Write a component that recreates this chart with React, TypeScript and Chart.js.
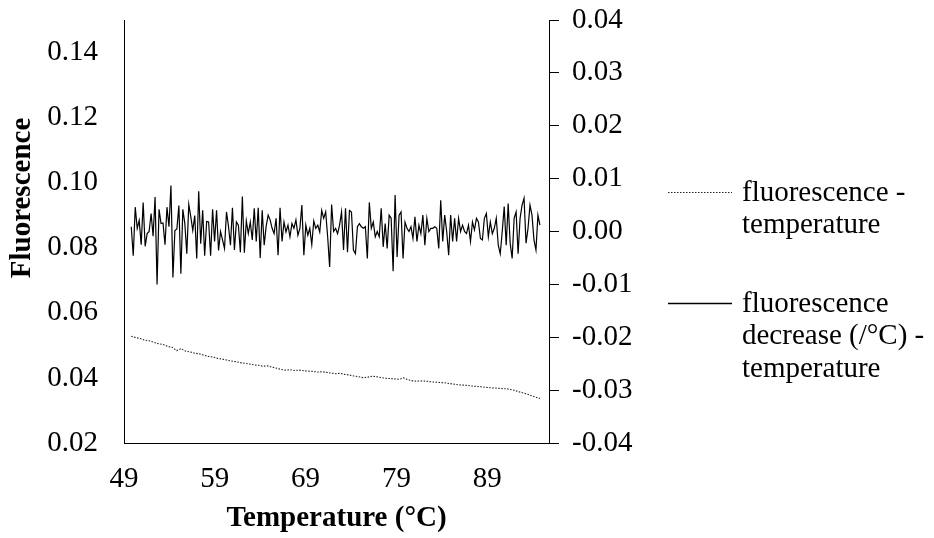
import { useEffect, useRef } from 'react';
import { Chart, registerables } from 'chart.js';

Chart.register(...registerables);

// ---- data ----
const T_START = 49.8; // first measured temperature (°C)
const T_END = 94.8; // last measured temperature (°C)

const xTickValues = [49, 59, 69, 79, 89];
const leftTickValues = [0.02, 0.04, 0.06, 0.08, 0.1, 0.12, 0.14];
const rightTickValues = [-0.04, -0.03, -0.02, -0.01, 0, 0.01, 0.02, 0.03, 0.04];

const legendLabels = [
  ['fluorescence -', 'temperature'],
  ['fluorescence', 'decrease (/°C) -', 'temperature'],
];

// fluorescence decrease (/°C), right axis
const fluorescenceDecrease = [
  0.0009, -0.0046, 0.0046, 0.0006, 0.0021, -0.0025, 0.0055, -0.0028, -0.0004, 0.0, 0.0034, -0.0009,
  0.0065, -0.01, 0.0042, 0.0015, 0.0016, -0.0025, 0.0046, 0.0009, 0.0087, -0.0087, 0.0002, 0.0005,
  0.0049, -0.008, 0.0042, 0.0015, -0.0042, 0.0051, 0.0028, 0.0002, 0.003, -0.0051, 0.0076, -0.0023,
  0.004, -0.0046, 0.0019, 0.0018, -0.0046, 0.0042, -0.0019, 0.004, -0.0036, 0.0,
  -0.0016, -0.0032, 0.0037, 0.001, -0.0026, 0.0045, -0.0035, 0.0018, 0.0012, -0.0039, 0.0066, -0.004,
  0.002, -0.0004, 0.0018, -0.0016, 0.0044, -0.0019, 0.0045, -0.005, 0.004, -0.0026, 0.001, 0.0031,
  0.0022, 0.0006, -0.0004, 0.0025, -0.0045, 0.0045, -0.0019, 0.0018, -0.0001, 0.0012, -0.001, 0.0015,
  0.0006, 0.0022, -0.0007, 0.0006, 0.005, -0.0045, 0.0012, -0.0007, 0.0006, -0.0025, 0.002, 0.0006,
  0.0012, -0.0001, 0.004,
  0.0025, 0.0037, -0.001, -0.0067, 0.0051, 0.0, 0.0006, -0.0004, 0.0012, 0.0037, -0.0035, 0.0044,
  -0.0039, 0.004, 0.0037, -0.0035, -0.0042, 0.0009, 0.0015, 0.0009, 0.0006, 0.0009, -0.0051, 0.0055,
  0.0006, 0.0018, -0.001, 0.0, -0.001, 0.0044, -0.0029, 0.0015, -0.0032, 0.0031, 0.0025, -0.0075,
  0.0069, -0.0048, 0.0031, 0.0037, -0.0051, 0.0018, 0.0006, 0.0, 0.0009, -0.0013, 0.0028, -0.0019,
  0.0012, -0.0004, 0.0031, -0.0026, 0.0025, 0.0, 0.0006,
  0.0006, 0.0009, 0.0006, -0.0032, 0.0059, -0.0019, 0.0031, 0.0, -0.0045, 0.0031, -0.0019, 0.0025,
  -0.0019, 0.0025, 0.0, 0.0012, 0.0, -0.0004, 0.0012, -0.0019, 0.0018, 0.0003, 0.0025, 0.0018,
  -0.0013, -0.0016, 0.0025, 0.0034, -0.001, 0.0018, -0.0004, 0.0006, 0.0025, -0.0026, -0.0042, 0.0,
  0.0047, -0.0026, 0.0053, -0.0022, -0.0051, 0.0025, 0.0037, -0.0042, 0.0025, 0.005, 0.0063, -0.0022,
  0.0006, 0.005, 0.0031, -0.0016, -0.0035, 0.0031, 0.0012,
];

// fluorescence, left axis
const fluorescence = [
  0.0528, 0.0524, 0.0521, 0.0516, 0.0514, 0.0509, 0.0505, 0.0503, 0.0497, 0.0494, 0.0484, 0.049,
  0.0482, 0.048, 0.0476, 0.0474, 0.047, 0.0466, 0.0464, 0.046, 0.0458, 0.0455, 0.0452, 0.045,
  0.0447, 0.0445, 0.0443, 0.044, 0.0439, 0.0436, 0.0437, 0.0433, 0.043, 0.0426, 0.0424, 0.0425,
  0.0423, 0.0424, 0.0422, 0.0421, 0.042, 0.0418, 0.0419, 0.0417, 0.0415, 0.0413, 0.0414, 0.0411,
  0.0409, 0.0406, 0.0404, 0.0401, 0.0402, 0.0405, 0.0404, 0.0401, 0.0399, 0.0398, 0.0397, 0.0396,
  0.04, 0.0394, 0.0391, 0.039, 0.0391, 0.039, 0.0388, 0.0387, 0.0386, 0.0385, 0.0383, 0.0381,
  0.0379, 0.0378, 0.0377, 0.0375, 0.0374, 0.0373, 0.0371, 0.037, 0.0369, 0.0368, 0.0367, 0.0366,
  0.0363, 0.0359, 0.0355, 0.0351, 0.0346, 0.0341, 0.0337,
];

// evenly spaced measurement temperatures between first and last reading
const tempsFor = (n: number) =>
  Array.from({ length: n }, (_, i) => T_START + ((T_END - T_START) * i) / (n - 1));

const FONT_FAMILY = '"Liberation Serif", "Times New Roman", serif';

const noScalePadding = (s: any) => {
  s.paddingTop = 0;
  s.paddingBottom = 0;
  s.paddingLeft = 0;
  s.paddingRight = 0;
};

const extraText = {
  id: 'extraText',
  afterDraw(chart: any) {
    const ctx = chart.ctx as CanvasRenderingContext2D;
    ctx.save();
    ctx.fillStyle = '#000';
    // left axis title
    ctx.font = `bold 29px ${FONT_FAMILY}`;
    ctx.translate(23, 198);
    ctx.rotate(-Math.PI / 2);
    ctx.textAlign = 'center';
    ctx.textBaseline = 'middle';
    ctx.fillText('Fluorescence', 0, 0);
    ctx.restore();

    // legend
    ctx.save();
    ctx.font = `29px ${FONT_FAMILY}`;
    ctx.fillStyle = '#000';
    ctx.textAlign = 'left';
    ctx.textBaseline = 'middle';
    const itemTops = [192, 303];
    legendLabels.forEach((lines, k) => {
      const y = itemTops[k];
      ctx.beginPath();
      ctx.lineWidth = k === 0 ? 1 : 1.3;
      ctx.strokeStyle = k === 0 ? '#222' : '#000';
      ctx.setLineDash(k === 0 ? [1.5, 1.5] : []);
      ctx.moveTo(668, y + 0.5);
      ctx.lineTo(732, y + 0.5);
      ctx.stroke();
      ctx.setLineDash([]);
      lines.forEach((t, j) => ctx.fillText(t, 742, y + 1 + j * 32.5));
    });
    ctx.restore();
  },
};

export default function App() {
  const canvasRef = useRef<HTMLCanvasElement | null>(null);

  useEffect(() => {
    document.body.style.margin = '0';
    const canvas = canvasRef.current;
    if (!canvas) return;
    const tickFont = { family: FONT_FAMILY, size: 29 };
    const derivTemps = tempsFor(fluorescenceDecrease.length);
    const fluorTemps = tempsFor(fluorescence.length);

    const chart = new Chart(canvas, {
      type: 'line',
      data: {
        datasets: [
          {
            label: 'fluorescence decrease (/°C) - temperature',
            data: fluorescenceDecrease.map((v, i) => ({ x: derivTemps[i], y: v })),
            yAxisID: 'y2',
            borderColor: '#000',
            borderWidth: 1.2,
            pointRadius: 0,
            tension: 0,
            fill: false,
          },
          {
            label: 'fluorescence - temperature',
            data: fluorescence.map((v, i) => ({ x: fluorTemps[i], y: v })),
            yAxisID: 'y',
            borderColor: '#222',
            borderWidth: 1.1,
            borderDash: [1.5, 1.5],
            pointRadius: 0,
            tension: 0,
            fill: false,
          },
        ],
      },
      options: {
        responsive: false,
        animation: false,
        devicePixelRatio: 1,
        layout: { padding: { top: 20, left: 0, right: 0, bottom: 0 } },
        plugins: {
          legend: { display: false },
          tooltip: { enabled: false },
        },
        scales: {
          x: {
            type: 'linear',
            min: 49,
            max: 95.8,
            afterBuildTicks: (s: any) => {
              s.ticks = xTickValues.map((v) => ({ value: v }));
            },
            afterFit: (s: any) => {
              s.height = 95;
              noScalePadding(s);
            },
            grid: { display: false, drawTicks: false },
            border: { display: true, color: '#000', width: 1 },
            ticks: {
              font: tickFont,
              color: '#000',
              padding: 19,
              autoSkip: false,
              maxRotation: 0,
              callback: (v: any) => String(v),
            },
            title: {
              display: true,
              text: 'Temperature (°C)',
              color: '#000',
              font: { family: FONT_FAMILY, size: 29, weight: 'bold' },
              padding: { top: 0, bottom: 2 },
            },
          },
          y: {
            type: 'linear',
            position: 'left',
            min: 0.02,
            max: 0.15,
            afterBuildTicks: (s: any) => {
              s.ticks = leftTickValues.map((v) => ({ value: v }));
            },
            afterFit: (s: any) => {
              s.width = 124;
              noScalePadding(s);
            },
            grid: { display: false, drawTicks: false },
            border: { display: true, color: '#000', width: 1 },
            ticks: {
              font: tickFont,
              color: '#000',
              padding: 26,
              autoSkip: false,
              callback: (v: any) => Number(v).toFixed(2),
            },
          },
          y2: {
            type: 'linear',
            position: 'right',
            min: -0.04,
            max: 0.04,
            afterBuildTicks: (s: any) => {
              s.ticks = rightTickValues.map((v) => ({ value: v }));
            },
            afterFit: (s: any) => {
              s.width = 385;
              noScalePadding(s);
            },
            grid: {
              display: true,
              drawOnChartArea: false,
              drawTicks: true,
              tickLength: 10,
              color: '#000',
              lineWidth: 1,
            },
            border: { display: true, color: '#000', width: 1 },
            ticks: {
              font: tickFont,
              color: '#000',
              padding: 13,
              autoSkip: false,
              callback: (v: any) => (Math.abs(Number(v)) < 1e-9 ? '0.00' : Number(v).toFixed(2)),
            },
          },
        },
      },
      plugins: [extraText],
    } as any);

    return () => {
      chart.destroy();
    };
  }, []);

  return (
    <div style={{ position: 'absolute', left: 0, top: 0, width: 934, height: 538, background: '#fff' }}>
      <canvas ref={canvasRef} width={934} height={538} style={{ display: 'block' }} />
    </div>
  );
}
